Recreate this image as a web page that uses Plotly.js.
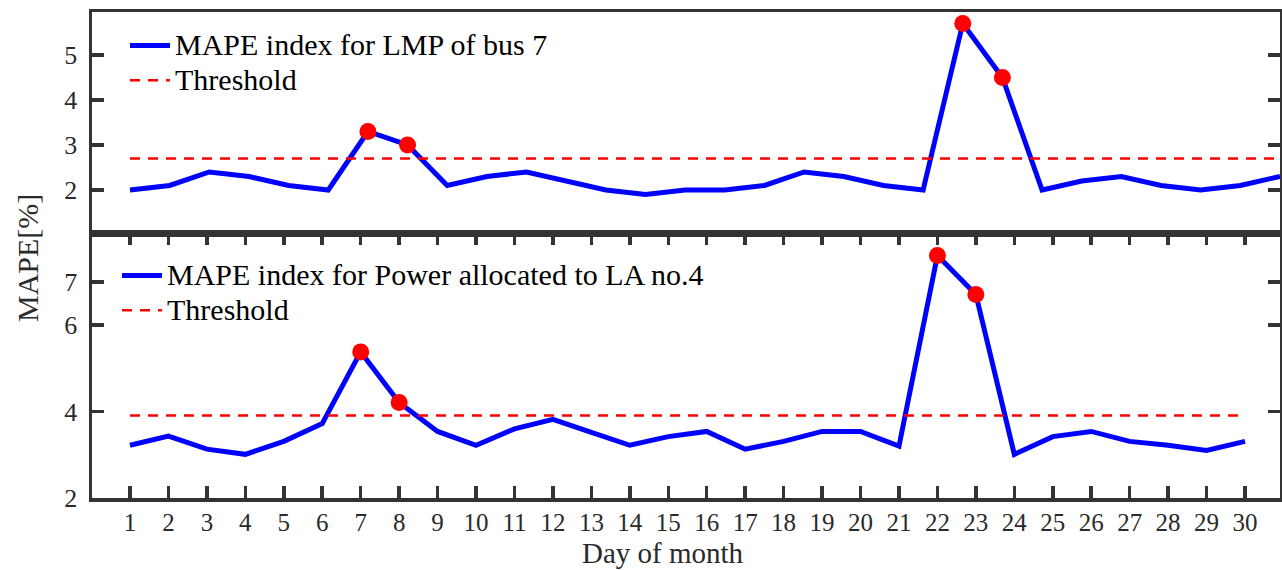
<!DOCTYPE html>
<html>
<head>
<meta charset="utf-8">
<script src="https://cdn.plot.ly/plotly-3.0.1.min.js"></script>
<style>html,body{margin:0;padding:0;background:#fff;}#chart{width:1282px;height:570px;}</style>
</head>
<body>
<div id="chart"></div>
<script>
// ---- data ----
const days = [1,2,3,4,5,6,7,8,9,10,11,12,13,14,15,16,17,18,19,20,21,22,23,24,25,26,27,28,29,30];
const lmpMape = [2.0,2.1,2.4,2.3,2.1,2.0,3.3,3.0,2.1,2.3,2.4,2.2,2.0,1.9,2.0,2.0,2.1,2.4,2.3,2.1,2.0,5.7,4.5,2.0,2.2,2.3,2.1,2.0,2.1,2.3];
const lmpThreshold = 2.7;
const powerMape = [3.22,3.43,3.13,3.01,3.31,3.72,5.38,4.21,3.54,3.22,3.6,3.82,3.52,3.22,3.42,3.54,3.13,3.31,3.54,3.54,3.2,7.61,6.71,3.01,3.42,3.54,3.31,3.22,3.1,3.31];
const powerThreshold = 3.91;
const topTicks = [2,3,4,5];
const bottomTicks = [2,4,6,7];
const topName = 'MAPE index for LMP of bus 7';
const bottomName = 'MAPE index for Power allocated to LA no.4';
const thresholdName = 'Threshold';
const xTitle = 'Day of month';
const yTitle = 'MAPE[%]';

// ---- build ----
const serif = 'Liberation Serif';
const axisCol = '#333333';
function above(vals, th){
  const xs=[], ys=[];
  vals.forEach((v,i)=>{ if(v>th){ xs.push(days[i]); ys.push(v);} });
  return {xs, ys};
}
const big = s => '<span style="font-size:30px">' + s + '</span>';
const topAbove = above(lmpMape, lmpThreshold);
const botAbove = above(powerMape, powerThreshold);

const traces = [
  {x: days, y: lmpMape, xaxis:'x2', yaxis:'y2', mode:'lines', name: big(topName),
   line:{color:'#0000ff', width:5}, legend:'legend'},
  {x: days, y: days.map(()=>lmpThreshold), xaxis:'x2', yaxis:'y2', mode:'lines', name: big(thresholdName),
   line:{color:'#ff0000', width:2.5, dash:'10px,8px'}, legend:'legend'},
  {x: topAbove.xs, y: topAbove.ys, xaxis:'x2', yaxis:'y2', mode:'markers', showlegend:false,
   marker:{color:'#ff0000', size:17}},
  {x: days, y: powerMape, xaxis:'x', yaxis:'y', mode:'lines', name: big(bottomName),
   line:{color:'#0000ff', width:5}, legend:'legend2'},
  {x: days, y: days.map(()=>powerThreshold), xaxis:'x', yaxis:'y', mode:'lines', name: big(thresholdName),
   line:{color:'#ff0000', width:2.5, dash:'10px,8px'}, legend:'legend2'},
  {x: botAbove.xs, y: botAbove.ys, xaxis:'x', yaxis:'y', mode:'markers', showlegend:false,
   marker:{color:'#ff0000', size:17}}
];

const split = 265/486;
const axCommon = {showline:true, linecolor:axisCol, linewidth:3.5, mirror:true, showgrid:false, zeroline:false,
  tickfont:{family:serif, size:26, color:'#2a2a2a'}};

const layout = {
  width:1282, height:570,
  margin:{l:92, r:2, t:12, b:72},
  paper_bgcolor:'#fff', plot_bgcolor:'#fff',
  font:{family:serif},
  showlegend:true,
  xaxis: Object.assign({}, axCommon, {domain:[0,1], anchor:'y', range:[0.012,30.91], tickvals:days,
    tickfont:{family:serif, size:25, color:'#2a2a2a'}, ticklabelstandoff:-1,
    ticks:'inside', ticklen:12, tickwidth:3.5, tickcolor:axisCol, mirror:'ticks'}),
  yaxis: Object.assign({}, axCommon, {domain:[0,split], anchor:'x', range:[2,8.13], tickvals:bottomTicks,
    ticks:'inside', ticklen:12, tickwidth:3.5, tickcolor:axisCol, mirror:'ticks', ticklabelstandoff:6}),
  xaxis2: Object.assign({}, axCommon, {domain:[0,1], anchor:'y2', range:[0.042,30], showticklabels:false, ticks:''}),
  yaxis2: Object.assign({}, axCommon, {domain:[split,1], anchor:'x2', range:[1.044,5.956], tickvals:topTicks,
    ticks:'inside', ticklen:12, tickwidth:3.5, tickcolor:axisCol, mirror:'ticks', ticklabelstandoff:6}),
  legend:{x:(125-92)/1188, y:(498-23)/486, xanchor:'left', yanchor:'top', bgcolor:'rgba(0,0,0,0)',
    font:{family:serif, size:24.5, color:'#000'}, tracegroupgap:0, itemwidth:40},
  legend2:{x:(117-92)/1188, y:(498-253)/486, xanchor:'left', yanchor:'top', bgcolor:'rgba(0,0,0,0)',
    font:{family:serif, size:24.5, color:'#000'}, tracegroupgap:0, itemwidth:40},
  annotations:[
    {text:xTitle, xref:'paper', yref:'paper', x:(663-92)/1188, y:(498-553)/486, xanchor:'center', yanchor:'middle',
     showarrow:false, font:{family:serif, size:29, color:'#2a2a2a'}},
    {text:yTitle, xref:'paper', yref:'paper', x:(27-92)/1188, y:(498-258)/486, xanchor:'center', yanchor:'middle',
     textangle:-90, showarrow:false, font:{family:serif, size:30, color:'#2a2a2a'}}
  ]
};

Plotly.newPlot('chart', traces, layout, {displayModeBar:false, staticPlot:true});
</script>
</body>
</html>
